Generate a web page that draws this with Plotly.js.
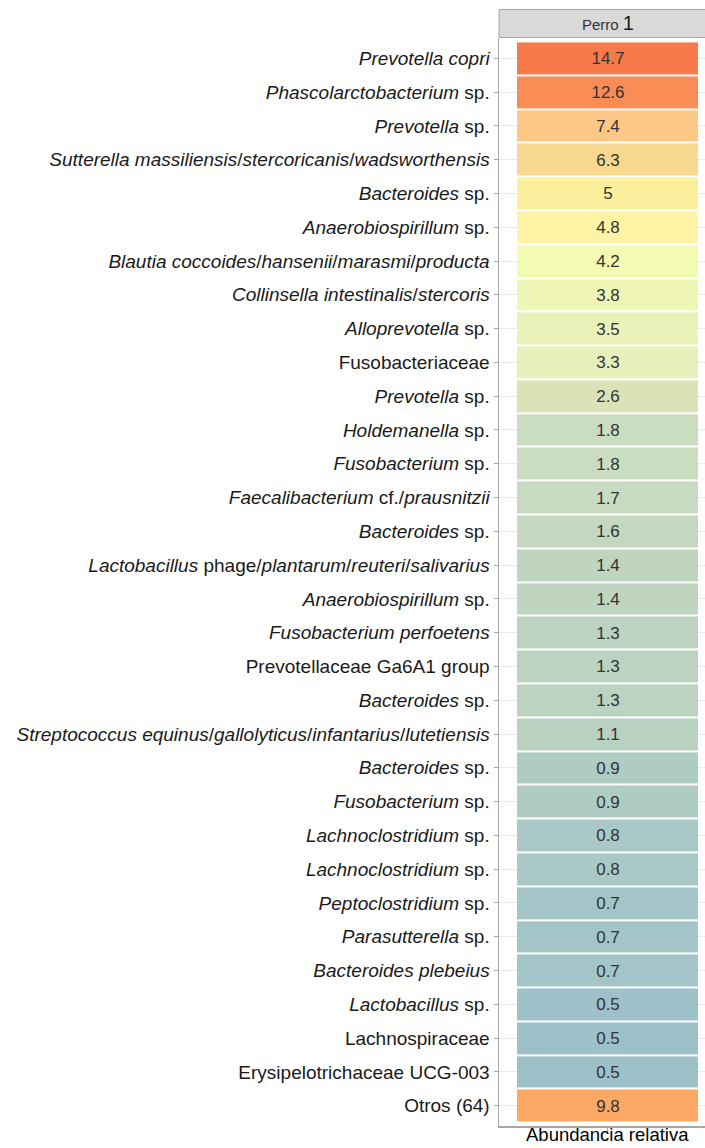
<!DOCTYPE html>
<html>
<head>
<meta charset="utf-8">
<script src="https://cdn.plot.ly/plotly-3.0.1.min.js"></script>
<style>
  html, body { margin: 0; padding: 0; background: #ffffff; overflow: hidden; }
  #chart { width: 705px; height: 1148px; }
</style>
</head>
<body>
<div id="chart"></div>
<script>
// ---- data ----
const taxa = [
  "<i>Prevotella copri</i>",
  "<i>Phascolarctobacterium</i> sp.",
  "<i>Prevotella</i> sp.",
  "<i>Sutterella massiliensis</i>/<i>stercoricanis</i>/<i>wadsworthensis</i>",
  "<i>Bacteroides</i> sp.",
  "<i>Anaerobiospirillum</i> sp.",
  "<i>Blautia coccoides</i>/<i>hansenii</i>/<i>marasmi</i>/<i>producta</i>",
  "<i>Collinsella intestinalis</i>/<i>stercoris</i>",
  "<i>Alloprevotella</i> sp.",
  "Fusobacteriaceae",
  "<i>Prevotella</i> sp.",
  "<i>Holdemanella</i> sp.",
  "<i>Fusobacterium</i> sp.",
  "<i>Faecalibacterium</i> cf./<i>prausnitzii</i>",
  "<i>Bacteroides</i> sp.",
  "<i>Lactobacillus</i> phage/<i>plantarum</i>/<i>reuteri</i>/<i>salivarius</i>",
  "<i>Anaerobiospirillum</i> sp.",
  "<i>Fusobacterium perfoetens</i>",
  "Prevotellaceae Ga6A1 group",
  "<i>Bacteroides</i> sp.",
  "<i>Streptococcus equinus</i>/<i>gallolyticus</i>/<i>infantarius</i>/<i>lutetiensis</i>",
  "<i>Bacteroides</i> sp.",
  "<i>Fusobacterium</i> sp.",
  "<i>Lachnoclostridium</i> sp.",
  "<i>Lachnoclostridium</i> sp.",
  "<i>Peptoclostridium</i> sp.",
  "<i>Parasutterella</i> sp.",
  "<i>Bacteroides plebeius</i>",
  "<i>Lactobacillus</i> sp.",
  "Lachnospiraceae",
  "Erysipelotrichaceae UCG-003",
  "Otros (64)"
];
const abundance = [14.7, 12.6, 7.4, 6.3, 5, 4.8, 4.2, 3.8, 3.5, 3.3, 2.6, 1.8, 1.8, 1.7, 1.6, 1.4, 1.4, 1.3, 1.3, 1.3, 1.1, 0.9, 0.9, 0.8, 0.8, 0.7, 0.7, 0.7, 0.5, 0.5, 0.5, 9.8];
const sample = ["Perro 1"];
const xTitle = "Abundancia relativa";

// ---- style: colour palette anchored at abundance levels ----
const palette = [
  [0.5, "#9DC0C9"], [0.7, "#A3C5C8"], [0.8, "#AAC8C5"], [0.9, "#AFCCC4"],
  [1.1, "#B8D1C0"], [1.3, "#BDD3C1"], [1.4, "#C0D5C0"], [1.6, "#C5D8BF"],
  [1.7, "#C8DBC0"], [1.8, "#CBDDC0"], [2.6, "#DAE3B7"], [3.3, "#E7F0BB"],
  [3.5, "#EBF2B9"], [3.8, "#EFF6B5"], [4.2, "#F3FBB2"], [4.8, "#FDF3A2"],
  [5.0, "#FCEF9E"], [6.3, "#F8D88E"], [7.4, "#FDC886"], [9.8, "#FDA865"],
  [12.6, "#FA8C55"], [14.7, "#F77A4A"]
];
const zmin = Math.min(...abundance), zmax = Math.max(...abundance);
const colorscale = palette.map(([v, c]) => [(v - zmin) / (zmax - zmin), c]);

const idx = taxa.map((_, i) => i);
const W = 705, H = 1148;
const L = 499, R = 0, T = 38, B = 22;
const plotW = W - L - R, plotH = H - T - B;
// cell spans 517..698 px; plot spans 499..705
const unit = 181;
const xr = [-0.5 - 18 / unit, 0.5 + 7 / unit];
const px2py = (py) => (H - B - py) / plotH; // pixel y -> paper y
const FONT = "Liberation Sans, Arial, Helvetica, sans-serif";

const trace = {
  type: "heatmap",
  x: [0],
  y: idx,
  z: abundance.map(v => [v]),
  text: abundance.map(v => [String(v)]),
  texttemplate: "%{text}",
  textfont: { family: FONT, size: 17, color: "#333333" },
  colorscale: colorscale,
  zmin: zmin, zmax: zmax,
  showscale: false,
  ygap: 2,
  hoverinfo: "skip"
};

const layout = {
  width: W, height: H,
  margin: { l: L, r: R, t: T, b: B, pad: 0 },
  paper_bgcolor: "#ffffff",
  plot_bgcolor: "#ffffff",
  font: { family: FONT, color: "#1a1a1a" },
  showlegend: false,
  xaxis: {
    range: xr,
    tickvals: [0], ticktext: [""],
    showticklabels: false,
    ticks: "outside", ticklen: 4, tickcolor: "#A6A6A6", tickwidth: 1,
    showgrid: false, zeroline: false,
    showline: true, linecolor: "#A6A6A6", linewidth: 1.5,
    fixedrange: true
  },
  yaxis: {
    range: [taxa.length - 1 + 0.6, -0.6],
    tickvals: idx, ticktext: taxa,
    ticks: "outside", ticklen: 4, tickcolor: "#A6A6A6", tickwidth: 1,
    tickfont: { family: FONT, size: 19, color: "#1a1a1a" },
    showgrid: true, gridcolor: "#EBEBEB", gridwidth: 1,
    zeroline: false,
    showline: true, linecolor: "#A6A6A6", linewidth: 1.5,
    fixedrange: true
  },
  shapes: [{
    type: "rect", xref: "paper", yref: "paper",
    x0: 0, x1: 1.1, y0: px2py(37.5), y1: px2py(9.5),
    fillcolor: "#D9D9D9", line: { color: "#A6A6A6", width: 1 }
  }],
  annotations: [
    {
      xref: "x", yref: "paper", x: 0, y: px2py(23),
      text: "<span style='font-size:15px;color:#333333'>Perro</span> <span style='font-size:20px;color:#1a1a1a'>1</span>",
      showarrow: false, xanchor: "center", yanchor: "middle",
      font: { family: FONT, size: 15, color: "#333333" }
    },
    {
      xref: "x", yref: "paper", x: 0, y: px2py(1147),
      text: xTitle, showarrow: false, xanchor: "center", yanchor: "bottom",
      font: { family: FONT, size: 18.5, color: "#000000" }
    }
  ]
};

Plotly.newPlot("chart", [trace], layout, { displayModeBar: false, staticPlot: true });
</script>
</body>
</html>
